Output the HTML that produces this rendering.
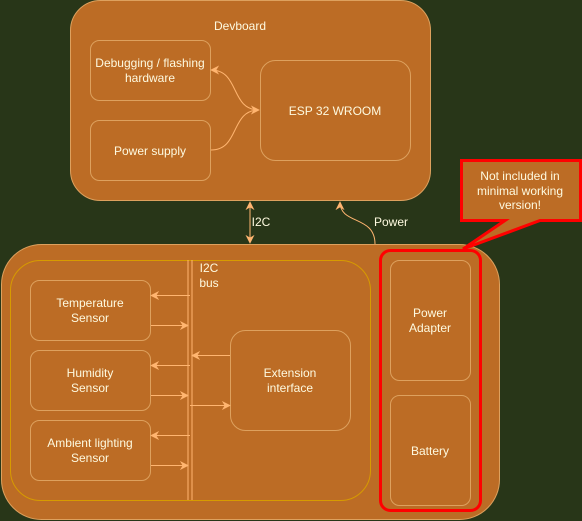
<!DOCTYPE html>
<html><head><style>
html,body{margin:0;padding:0;background:#283618;}
svg{display:block;}
text{font-family:"Liberation Sans",sans-serif;font-size:12px;fill:#fefae0;text-anchor:middle;}
</style></head><body>
<svg width="582" height="521" viewBox="0 0 582 521" xmlns="http://www.w3.org/2000/svg">
<defs>
<marker id="a" viewBox="0 0 10 10" refX="9" refY="5" markerWidth="9" markerHeight="9" orient="auto-start-reverse" markerUnits="userSpaceOnUse">
<path d="M0,0 L10,5 L0,10 L3,5 Z" fill="#ffb570"/>
</marker>
</defs>
<rect width="582" height="521" fill="#283618"/>
<!-- Devboard -->
<rect x="70.5" y="0.5" width="360" height="200" rx="30" fill="#bc6c25" stroke="#dda15e"/>
<text x="240" y="30">Devboard</text>
<rect x="90.5" y="40.5" width="120" height="60" rx="9" fill="#bc6c25" stroke="#dda15e"/>
<text x="150" y="67">Debugging / flashing</text><text x="150" y="82">hardware</text>
<rect x="90.5" y="120.5" width="120" height="60" rx="9" fill="#bc6c25" stroke="#dda15e"/>
<text x="150" y="155">Power supply</text>
<rect x="260.5" y="60.5" width="150" height="100" rx="15" fill="#bc6c25" stroke="#dda15e"/>
<text x="335" y="115">ESP 32 WROOM</text>
<path d="M211,70 C240,70 230,110 259,110" fill="none" stroke="#ffb570" marker-start="url(#a)" marker-end="url(#a)"/>
<path d="M211,150 C240,150 230,110 259,110" fill="none" stroke="#ffb570"/>
<!-- I2C and power links -->
<path d="M250,202 L250,243" stroke="#ffb570" marker-start="url(#a)" marker-end="url(#a)"/>
<text x="261" y="226">I2C</text>
<path d="M375,244 C375,215 340,225 340,202" fill="none" stroke="#ffb570" marker-end="url(#a)"/>
<text x="391" y="226">Power</text>
<!-- bottom -->
<rect x="1.5" y="244.5" width="498" height="275" rx="40" fill="#bc6c25" stroke="#dda15e"/>
<rect x="10.5" y="260.5" width="360" height="240" rx="30" fill="none" stroke="#d79b00"/>
<line x1="188" y1="260" x2="188" y2="500" stroke="#ffb570"/>
<line x1="192" y1="260" x2="192" y2="500" stroke="#ffb570"/>
<text x="209" y="272">I2C</text><text x="209" y="287">bus</text>
<rect x="30.5" y="280.5" width="120" height="60" rx="9" fill="#bc6c25" stroke="#dda15e"/>
<text x="90" y="307">Temperature</text><text x="90" y="322">Sensor</text>
<rect x="30.5" y="350.5" width="120" height="60" rx="9" fill="#bc6c25" stroke="#dda15e"/>
<text x="90" y="377">Humidity</text><text x="90" y="392">Sensor</text>
<rect x="30.5" y="420.5" width="120" height="60" rx="9" fill="#bc6c25" stroke="#dda15e"/>
<text x="90" y="447">Ambient lighting</text><text x="90" y="462">Sensor</text>
<rect x="230.5" y="330.5" width="120" height="100" rx="15" fill="#bc6c25" stroke="#dda15e"/>
<text x="290" y="377">Extension</text><text x="290" y="392">interface</text>
<g stroke="#ffb570" fill="none">
<path d="M190,295.5 L151,295.5" marker-end="url(#a)"/>
<path d="M151,325.5 L188,325.5" marker-end="url(#a)"/>
<path d="M190,365.5 L151,365.5" marker-end="url(#a)"/>
<path d="M151,395.5 L188,395.5" marker-end="url(#a)"/>
<path d="M190,435.5 L151,435.5" marker-end="url(#a)"/>
<path d="M151,465.5 L188,465.5" marker-end="url(#a)"/>
<path d="M230,355.5 L192,355.5" marker-end="url(#a)"/>
<path d="M190,405.5 L230,405.5" marker-end="url(#a)"/>
</g>
<rect x="390.5" y="260.5" width="80" height="120" rx="9" fill="#bc6c25" stroke="#dda15e"/>
<text x="430" y="317">Power</text><text x="430" y="332">Adapter</text>
<rect x="390.5" y="395.5" width="80" height="110" rx="9" fill="#bc6c25" stroke="#dda15e"/>
<text x="430" y="455">Battery</text>
<rect x="380.5" y="250.5" width="100" height="260" rx="10" fill="none" stroke="#ff0000" stroke-width="3"/>
<!-- callout -->
<path d="M461.5,160.5 L580.5,160.5 L580.5,220.5 L540,220.5 L463,249 L505,220.5 L461.5,220.5 Z" fill="#bc6c25" stroke="#ff0000" stroke-width="3" stroke-linejoin="miter"/>
<text x="520" y="180">Not included in</text><text x="520" y="195">minimal working</text><text x="520" y="209">version!</text>
</svg>
</body></html>
